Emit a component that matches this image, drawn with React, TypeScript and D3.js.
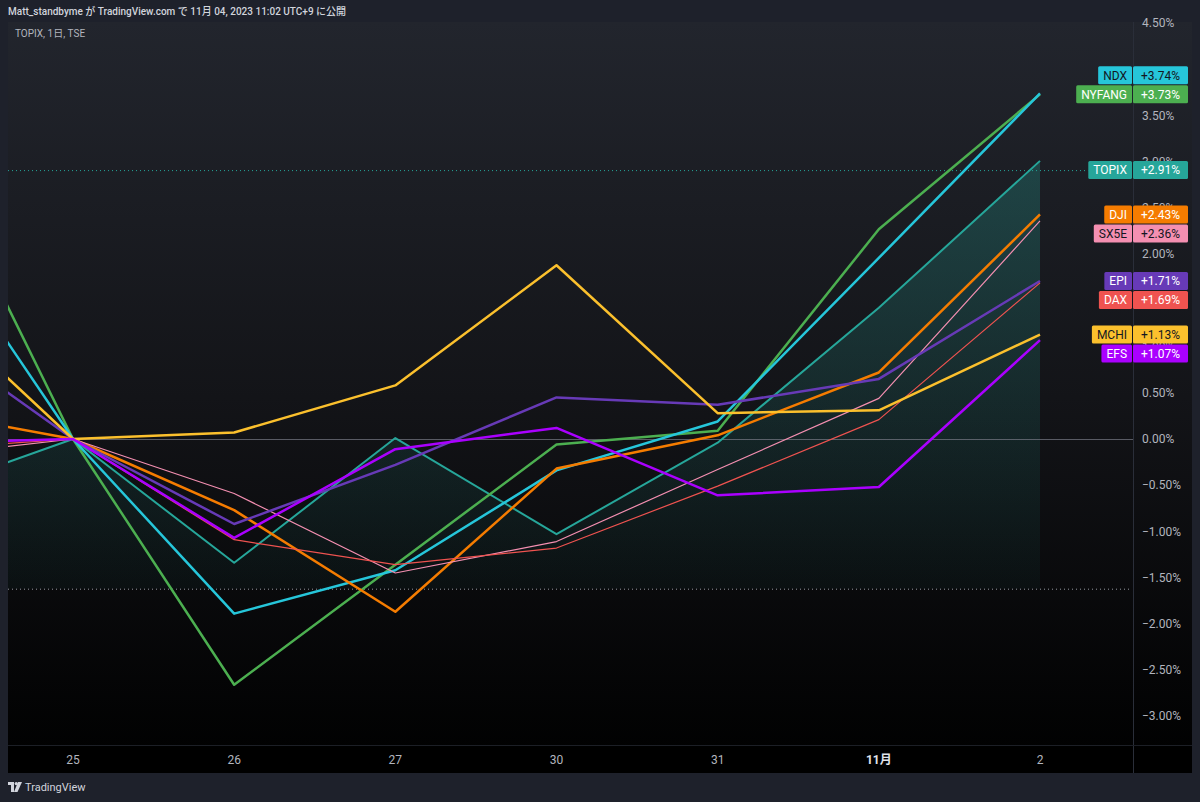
import React from "react";
import * as d3 from "d3";

// ---- Data ----
const dates = ["24", "25", "26", "27", "30", "31", "11月", "2"];
const seriesNames = ["TOPIX", "NYFANG", "NDX", "DJI", "SX5E", "EPI", "DAX", "MCHI", "EFS"];
const topix = [-0.62, 0, -1.34, 0.01, -1.03, -0.04, 1.42, 3.01];
const nyfang = [3.54, 0, -2.66, -1.36, -0.06, 0.09, 2.27, 3.73];
const ndx = [2.58, 0, -1.89, -1.42, -0.34, 0.19, 1.96, 3.74];
const dji = [0.32, 0, -0.77, -1.87, -0.32, 0.04, 0.72, 2.43];
const sx5e = [-0.2, 0, -0.59, -1.45, -1.11, -0.33, 0.44, 2.36];
const epi = [1.24, 0, -0.92, -0.28, 0.45, 0.37, 0.65, 1.71];
const dax = [-0.12, 0, -1.09, -1.36, -1.18, -0.51, 0.21, 1.69];
const mchi = [1.63, 0, 0.07, 0.58, 1.88, 0.28, 0.31, 1.13];
const efs = [-0.05, 0, -1.07, -0.11, 0.12, -0.61, -0.52, 1.07];
const seriesValues = [topix, nyfang, ndx, dji, sx5e, epi, dax, mchi, efs];
const labelValues = [2.91, 3.73, 3.74, 2.43, 2.36, 1.71, 1.69, 1.13, 1.07];
const seriesColors = ["#26a69a", "#4caf50", "#26c6da", "#f57c00", "#f48fb1", "#673ab7", "#ef5350", "#fbc02d", "#aa00ff"];
const seriesWidths = [2, 2.5, 2.5, 2.5, 1.2, 2.5, 1.2, 2.5, 2.5];
const darkText = [false, false, true, false, true, false, false, true, false];
const priceTicks = [4.5, 4, 3.5, 3, 2.5, 2, 1.5, 1, 0.5, 0, -0.5, -1, -1.5, -2, -2.5, -3];
const baselineValue = -1.62;
const headerText = "Matt_standbyme が TradingView.com で 11月 04, 2023 11:02 UTC+9 に公開";
const symbolText = "TOPIX, 1日, TSE";

const W = 1200;
const H = 802;
const plot = { left: 8, right: 1133, top: 22, bottom: 745 };
const panelRight = 1192;
const panelBottom = 773;
const FONT = "Roboto, 'Noto Sans CJK JP', sans-serif";

function measure(text: string, size: number, weight = "normal") {
  const c = document.createElement("canvas").getContext("2d");
  if (!c) return text.length * size * 0.6;
  c.font = `${weight} ${size}px Roboto, 'Noto Sans CJK JP', sans-serif`;
  return c.measureText(text).width;
}

export default function App() {
  const x = d3.scalePoint<string>().domain(dates).range([73 - 161.17, 1040]);
  const y = d3.scaleLinear().domain([-3, 4.5]).range([439 + 3 * 92.4, 439 - 4.5 * 92.4]);

  const line = d3
    .line<number>()
    .x((_, i) => x(dates[i]) as number)
    .y((v) => y(v));
  const area = d3
    .area<number>()
    .x((_, i) => x(dates[i]) as number)
    .y0(y(baselineValue))
    .y1((v) => y(v));

  // label layout
  const LH = 19;
  const placed: number[] = [];
  const labelY: number[] = [];
  labelValues.forEach((v) => {
    const ideal = y(v);
    const conflicts = (c: number) => placed.some((p) => Math.abs(p - c) < LH - 0.01);
    let best = ideal;
    if (conflicts(ideal)) {
      const cands: number[] = [];
      placed.forEach((p) => {
        cands.push(p - LH, p + LH);
      });
      best = cands
        .filter((c) => !conflicts(c))
        .sort((a, b) => Math.abs(a - ideal) - Math.abs(b - ideal))[0];
    }
    placed.push(best);
    labelY.push(best);
  });

  const fmt = (v: number) => (v >= 0 ? "+" : "") + v.toFixed(2) + "%";
  const tickFmt = (v: number) => (v < 0 ? "−" : "") + Math.abs(v).toFixed(2) + "%";
  // tick labels completely hidden behind a series label are not drawn
  const visibleTicks = priceTicks.filter((t) => !labelY.some((ly) => Math.abs(ly - y(t)) < 6));

  return (
    <div style={{ position: "absolute", left: 0, top: 0 }}>
      <svg width={W} height={H} style={{ display: "block" }} fontFamily={FONT}>
        <defs>
          <linearGradient id="bg" x1="0" y1="0" x2="0" y2="1">
            <stop offset="0%" stopColor="#22252d" />
            <stop offset="50%" stopColor="#131418" />
            <stop offset="100%" stopColor="#000000" />
          </linearGradient>
          <linearGradient id="topixFill" gradientUnits="userSpaceOnUse" x1="0" y1={y(3.01)} x2="0" y2={y(baselineValue)}>
            <stop offset="0%" stopColor="#26a69a" stopOpacity={0.28} />
            <stop offset="100%" stopColor="#26a69a" stopOpacity={0.04} />
          </linearGradient>
          <clipPath id="plotClip">
            <rect x={plot.left} y={plot.top} width={plot.right - plot.left} height={plot.bottom - plot.top} />
          </clipPath>
        </defs>
        <rect x={0} y={0} width={W} height={H} fill="#1e212b" />
        <text x={8} y={15} fontSize={10} fill="#d1d4dc" fontWeight={500}>
          {headerText}
        </text>
        {/* panel */}
        <rect x={plot.left} y={plot.top} width={panelRight - plot.left} height={panelBottom - plot.top} fill="url(#bg)" />
        <rect x={plot.left} y={plot.bottom} width={panelRight - plot.left} height={panelBottom - plot.bottom} fill="#000" />
        <line x1={plot.right + 0.5} x2={plot.right + 0.5} y1={plot.top} y2={panelBottom} stroke="#2a2e39" />
        <line x1={plot.left} x2={panelRight} y1={plot.bottom + 0.5} y2={plot.bottom + 0.5} stroke="#1c1f26" />
        <text x={15} y={37} fontSize={10} fill="#b2b5be">
          {symbolText}
        </text>

        <g clipPath="url(#plotClip)">
          <path d={area(topix) || ""} fill="url(#topixFill)" />
          <line x1={plot.left} x2={plot.right} y1={y(0) + 0.5} y2={y(0) + 0.5} stroke="#787b86" strokeOpacity={0.7} strokeWidth={1} />
          <line
            x1={plot.left}
            x2={plot.right - 3}
            y1={y(baselineValue) + 0.5}
            y2={y(baselineValue) + 0.5}
            stroke="#9598a1"
            strokeWidth={1}
            strokeDasharray="1 3"
          />
          <line
            x1={plot.left}
            x2={1132 - measure("TOPIX", 12) - 10}
            y1={y(labelValues[0]) + 0.5}
            y2={y(labelValues[0]) + 0.5}
            stroke="#26a69a"
            strokeWidth={1}
            strokeDasharray="1 3"
          />
          {seriesValues.map((vals, i) => (
            <path
              key={seriesNames[i]}
              d={line(vals) || ""}
              fill="none"
              stroke={seriesColors[i]}
              strokeWidth={seriesWidths[i]}
              strokeLinejoin="round"
            />
          ))}
        </g>

        {/* price axis */}
        {visibleTicks.map((t) => (
          <text key={t} x={1142} y={y(t)} dy="0.35em" fontSize={12} fill="#b2b5be">
            {tickFmt(t)}
          </text>
        ))}

        {/* time axis */}
        {dates.map((d) => {
          const px = x(d) as number;
          if (px < plot.left) return null;
          const month = d.includes("月");
          return (
            <text
              key={d}
              x={px}
              y={760}
              dy="0.35em"
              textAnchor="middle"
              fontSize={12}
              fill={month ? "#e0e3eb" : "#b2b5be"}
              fontWeight={month ? 700 : 400}
            >
              {d}
            </text>
          );
        })}

        {/* series labels */}
        {seriesNames.map((name, i) => {
          const cy = labelY[i];
          const w = measure(name, 12) + 10;
          const tc = darkText[i] ? "#131722" : "#ffffff";
          return (
            <g key={name}>
              <rect x={1132 - w} y={cy - 9} width={w} height={18} rx={1.5} fill={seriesColors[i]} />
              <rect x={1133} y={cy - 9} width={55} height={18} rx={1.5} fill={seriesColors[i]} />
              <text x={1127} y={cy} dy="0.35em" textAnchor="end" fontSize={12} fill={tc}>
                {name}
              </text>
              <text x={1141} y={cy} dy="0.35em" fontSize={12} fill={tc}>
                {fmt(labelValues[i])}
              </text>
            </g>
          );
        })}

        {/* footer logo */}
        <g transform="translate(8,782)" fill="#d1d4dc">
          <path d="M0 0 H6 V10 H3 V3 H0 Z" />
          <circle cx={8.2} cy={1.6} r={1.6} />
          <path d="M10 0 H14 L9.5 10 H6 Z" />
        </g>
        <text x={25} y={791} fontSize={11} fill="#d1d4dc">
          TradingView
        </text>
      </svg>
    </div>
  );
}
